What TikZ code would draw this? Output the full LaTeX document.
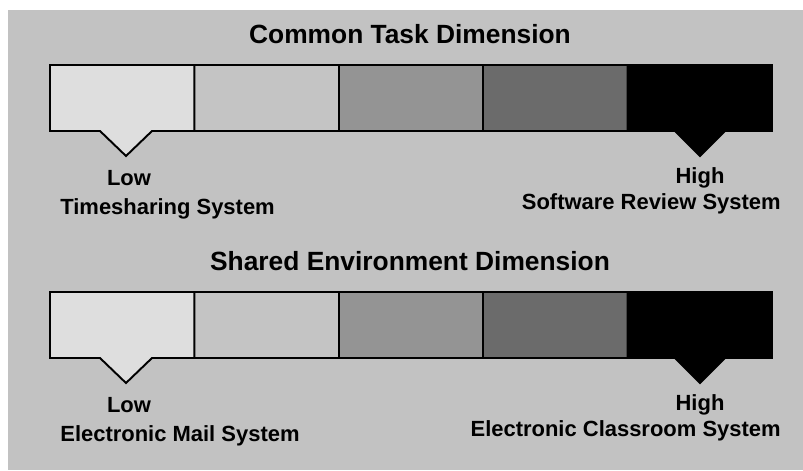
\documentclass[tikz,border=0pt]{standalone}
\usepackage{fontspec}
\setmainfont{Liberation Sans}
\definecolor{paper}{gray}{0.76}
\definecolor{shadeA}{gray}{0.87}
\definecolor{shadeB}{gray}{0.77}
\definecolor{shadeC}{gray}{0.58}
\definecolor{shadeD}{gray}{0.42}
\tikzset{
  seg/.style={draw=black, line width=1.1pt, line join=miter},
  title/.style={font=\fontsize{15}{18}\selectfont\bfseries, anchor=base},
  lbl/.style={font=\fontsize{12.5}{15}\selectfont\bfseries, anchor=base, inner sep=0pt},
}

\begin{document}
\begin{tikzpicture}[x=0.02cm, y=-0.02cm]
  \useasboundingbox (0,0) rectangle (803,470);
  \fill[paper] (8,10) rectangle (803,470);
  \foreach \n/\dy/\name/\lo/\hi in {1/0/Common Task Dimension/Timesharing System/Software Review System,
                                    2/227/Shared Environment Dimension/Electronic Mail System/Electronic Classroom System}{
    \begin{scope}[shift={(0,\dy)}]
      \node[title] (title\n) at (410,43) {\name};
      % middle pieces of the scale
      \foreach \i/\c in {1/shadeB,2/shadeC,3/shadeD}{
        \filldraw[seg, fill=\c] (50+144.4*\i,65) rectangle (194.4+144.4*\i,131);
      }
      % the two ends, with their pointers
      \filldraw[seg, fill=shadeA] (50,65) -- (194.4,65) -- (194.4,131) -- (152,131)
        -- (126,156) coordinate (low\n) -- (100,131) -- (50,131) -- cycle;
      \filldraw[seg, fill=black] (627.6,65) -- (772,65) -- (772,131) -- (725,131)
        -- (700,156) coordinate (high\n) -- (675,131) -- (627.6,131) -- cycle;
      \node[lbl] (lo\n) at (129,185) {Low};
      \node[lbl, anchor=base west] (lotext\n) at (60,214) {\lo};
      \node[lbl] (hi\n) at (700,183) {High};
      \node[lbl, anchor=base east] (hitext\n) at (781,209) {\hi};
    \end{scope}
  }
\end{tikzpicture}
\end{document}
